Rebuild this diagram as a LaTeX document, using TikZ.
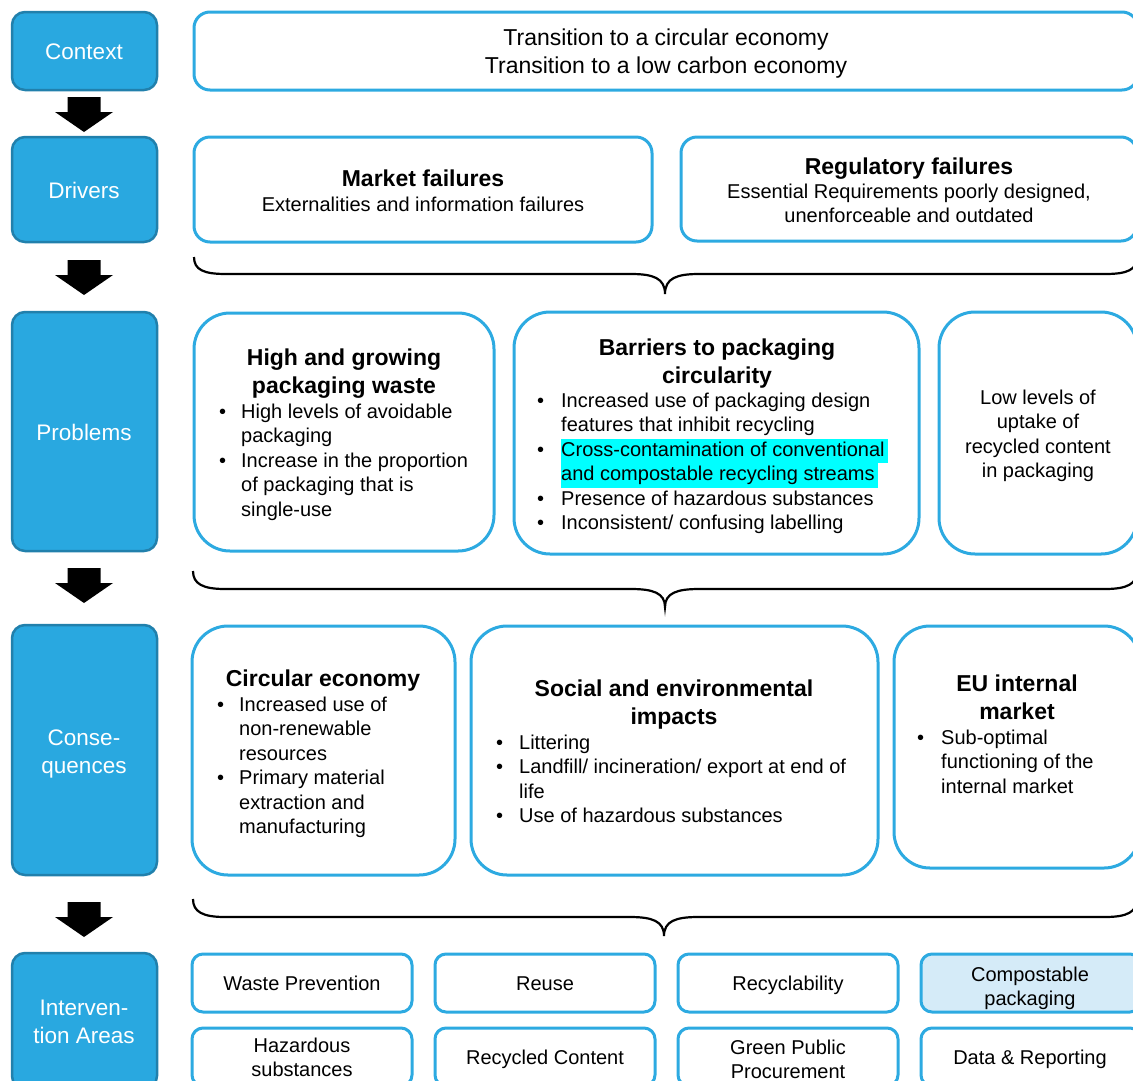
\documentclass[tikz,border=0pt]{standalone}
\usepackage{fontspec}
\setmainfont{Liberation Sans}

\definecolor{stageblue}{RGB}{41,168,224}
\definecolor{stageedge}{RGB}{33,128,172}
\definecolor{lineblue}{RGB}{45,170,225}
\definecolor{palefill}{RGB}{213,235,248}
\definecolor{hlcyan}{RGB}{0,255,255}

% centred block of lines, first baseline on top
\newcommand{\ctr}[1]{\begin{tabular}[t]{@{}c@{}}#1\end{tabular}}
% bullet list: bullet column width, rows
\newcommand{\blist}[2]{\begin{tabular}[t]{@{}p{#1pt}@{}l@{}}#2\end{tabular}}
% highlighted line
\newcommand{\hlt}[1]{{\setlength{\fboxsep}{0pt}\colorbox{hlcyan}{\strut#1\hspace{3pt}}}}
% box node from corner (x1,y1) to corner (x2,y2)
\newcommand{\boxat}[7]{\node[#2, minimum width={(#5)-(#3)}, minimum height={(#6)-(#4)}] (#1) at ({((#3)+(#5))/2},{((#4)+(#6))/2}) {#7};}
% curly brace: x1, xmid, x2, ytop, yline, ytip
\newcommand{\curly}[6]{%
  \draw[brace] (#1,#4) .. controls (#1,#4+13) and (#1+10,#5) .. (#1+32,#5)
    -- (#2-34,#5) .. controls (#2-12,#5) and (#2,#5+4) .. (#2,#6)
    .. controls (#2,#5+4) and (#2+12,#5) .. (#2+34,#5)
    -- (#3-32,#5) .. controls (#3-10,#5) and (#3,#4+13) .. (#3,#4);}
% solid down arrow, top centre at (x,y)
\newcommand{\downblock}[2]{%
  \fill[black] (#1-16.5,#2) -- (#1+16.5,#2) -- (#1+16.5,#2+15) -- (#1+29,#2+15)
    -- (#1,#2+35) -- (#1-29,#2+15) -- (#1-16.5,#2+15) -- cycle;}

\begin{document}
\begin{tikzpicture}[x=1pt,y=-1pt,
  stage/.style={draw=stageedge, line width=2.5pt, fill=stageblue, rounded corners=13pt,
    inner sep=0pt, outer sep=0pt, text=white, font=\fontsize{22.5}{28}\selectfont, align=center},
  stagetext/.style={anchor=base, inner sep=0pt, text=white, font=\fontsize{22.5}{28}\selectfont},
  panel/.style={draw=lineblue, line width=3pt, fill=white, inner sep=0pt, outer sep=0pt,
    font=\fontsize{20}{24.5}\selectfont, align=center},
  big/.style={panel, rounded corners=36pt},
  mid/.style={panel, rounded corners=16pt},
  small/.style={panel, rounded corners=11pt, font=\fontsize{20}{24}\selectfont},
  head/.style={anchor=base, inner sep=0pt, font=\fontsize{23}{28}\selectfont\bfseries},
  body/.style={anchor=base, inner sep=0pt, font=\fontsize{20}{24.5}\selectfont},
  tag/.style={anchor=base, inner sep=0pt, font=\fontsize{20}{24}\selectfont},
  items/.style={anchor=base west, inner sep=0pt, font=\fontsize{20}{24.5}\selectfont},
  brace/.style={draw=black, line width=2.2pt}]
\useasboundingbox (0,0) rectangle (1133,1080);
\clip (0,0) rectangle (1133,1080);

% stage column
\boxat{sctx}{stage}{12}{12}{157}{90}{}
\node[stagetext] (sctxt) at (84,59) {Context};
\boxat{sdrv}{stage}{12}{137}{157}{242}{}
\node[stagetext] (sdrvt) at (84,198) {Drivers};
\boxat{sprb}{stage}{12}{312}{157}{551}{}
\node[stagetext] (sprbt) at (84,440) {Problems};
\boxat{scon}{stage}{12}{625}{157}{875}{}
\node[stagetext] (scont) at (84,745) {\ctr{Conse-\\quences}};
\boxat{sint}{stage}{12}{953}{157}{1089}{}
\node[stagetext] (sintt) at (84,1015) {\ctr{Interven-\\tion Areas}};

\downblock{84}{97}
\downblock{84}{260}
\downblock{84}{568}
\downblock{84}{902}

% context
\boxat{ctx}{mid}{194}{12}{1138}{90}{}
\node[head, font=\fontsize{23}{28}\selectfont] (ctxt) at (666,45) {\ctr{Transition to a circular economy\\Transition to a low carbon economy}};

% drivers
\boxat{mkt}{mid}{194}{137}{652}{242}{}
\node[head] (mkth) at (423,186) {Market failures};
\node[body] (mktb) at (423,211) {Externalities and information failures};
\boxat{reg}{mid}{681}{137}{1137}{241}{}
\node[head] (regh) at (909,174) {Regulatory failures};
\node[body] (regb) at (909,198) {\ctr{Essential Requirements poorly designed,\\unenforceable and outdated}};

\curly{194}{665}{1137}{257}{274}{294}

% problems
\boxat{hg}{big}{194}{313}{494}{551}{}
\node[head] (hgh) at (344,365) {\ctr{High and growing\\packaging waste}};
\node[items] (hgl) at (219,418) {\blist{22}{• & High levels of avoidable\\ & packaging\\ • & Increase in the proportion\\ & of packaging that is\\ & single-use}};

\boxat{bar}{big}{514}{312}{919}{554}{}
\node[head] (barh) at (717,355) {\ctr{Barriers to packaging\\circularity}};
\node[items] (barl) at (537,407) {\blist{24}{• & Increased use of packaging design\\ & features that inhibit recycling\\ • & \hlt{Cross-contamination of conventional}\\ & \hlt{and compostable recycling streams}\\ • & Presence of hazardous substances\\ • & Inconsistent/ confusing labelling}};

\boxat{low}{big}{939}{312}{1137}{554}{}
\node[body] (lowt) at (1038,404) {\ctr{Low levels of\\uptake of\\recycled content\\in packaging}};

\curly{193}{665}{1137}{571}{589}{607}

% consequences
\boxat{circ}{big}{192}{626}{455}{875}{}
\node[head] (circh) at (323,686) {Circular economy};
\node[items] (circl) at (217,711) {\blist{22}{• & Increased use of\\ & non-renewable\\ & resources\\ • & Primary material\\ & extraction and\\ & manufacturing}};

\boxat{soc}{big}{471}{626}{878}{875}{}
\node[head] (soch) at (674,696) {\ctr{Social and environmental\\impacts}};
\node[items] (socl) at (496,749) {\blist{23}{• & Littering\\ • & Landfill/ incineration/ export at end of\\ & life\\ • & Use of hazardous substances}};

\boxat{eu}{big}{894}{626}{1140}{868}{}
\node[head] (euh) at (1017,691) {\ctr{EU internal\\market}};
\node[items] (eul) at (917,744) {\blist{24}{• & Sub-optimal\\ & functioning of the\\ & internal market}};

\curly{193}{664}{1137}{899}{917}{936}

% intervention areas
\boxat{wp}{small}{192}{954}{412}{1012}{}
\node[tag] (wpt) at (302,990) {Waste Prevention};
\boxat{ru}{small}{435}{954}{655}{1012}{}
\node[tag] (rut) at (545,990) {Reuse};
\boxat{rc}{small}{678}{954}{898}{1012}{}
\node[tag] (rct) at (788,990) {Recyclability};
\boxat{cp}{small, fill=palefill}{921}{954}{1141}{1012}{}
\node[tag] (cpt) at (1030,981) {\ctr{Compostable\\packaging}};
\boxat{hz}{small}{192}{1028}{412}{1086}{}
\node[tag] (hzt) at (302,1052) {\ctr{Hazardous\\substances}};
\boxat{rcc}{small}{435}{1028}{655}{1086}{}
\node[tag] (rcct) at (545,1064) {Recycled Content};
\boxat{gpp}{small}{678}{1028}{898}{1086}{}
\node[tag] (gppt) at (788,1054) {\ctr{Green Public\\Procurement}};
\boxat{dr}{small}{921}{1028}{1141}{1086}{}
\node[tag] (drt) at (1030,1064) {Data \& Reporting};
\end{tikzpicture}
\end{document}
